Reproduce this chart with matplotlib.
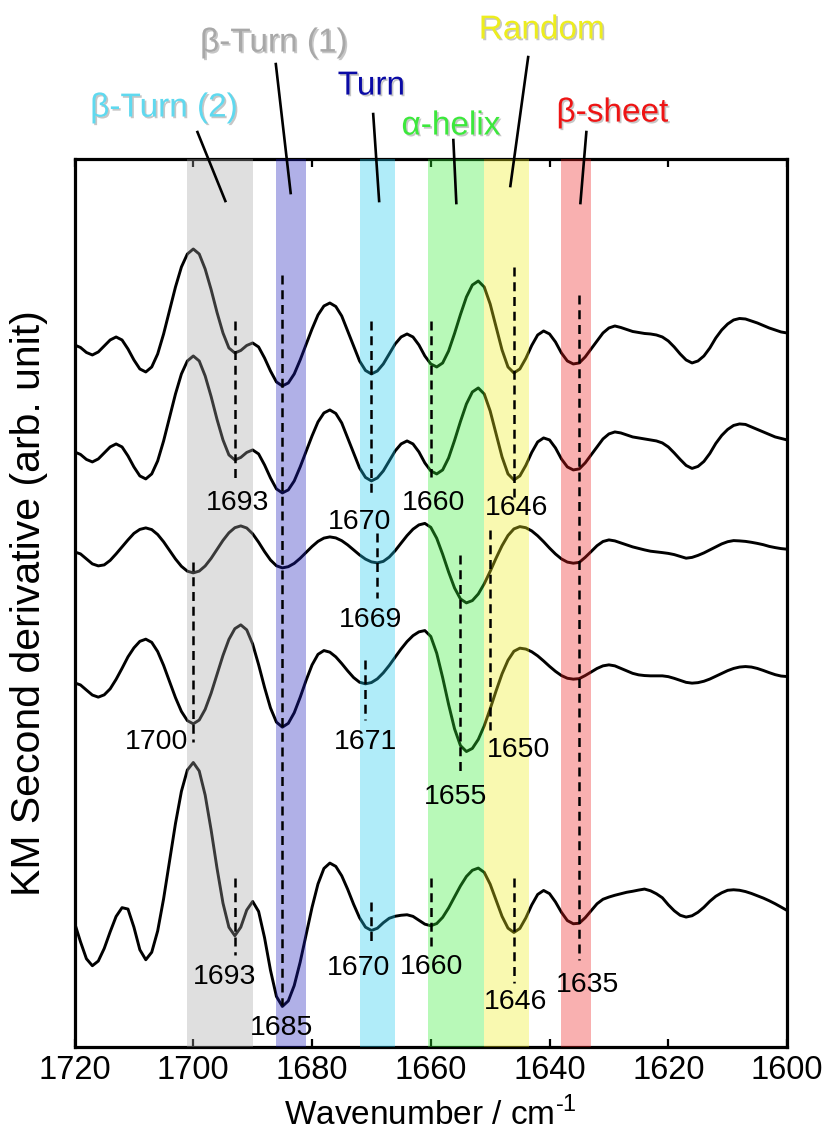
import numpy as np
import matplotlib
matplotlib.use("Agg")
import matplotlib.pyplot as plt
import matplotlib.patheffects as pe

plt.rcParams['font.family'] = ['Liberation Sans', 'DejaVu Sans']
plt.rcParams['mathtext.fontset'] = 'custom'
plt.rcParams['mathtext.rm'] = 'Liberation Sans'

# wavenumber axis, 1 cm-1 steps (1720 -> 1600)
wavenumber = np.arange(1720, 1599, -1)

# KM second-derivative traces, top to bottom (arb. unit, relative to each baseline)
spec_a = [-5, -7.5, -12.5, -15, -12, -6, 0, 3, 0, -9,
          -20, -29, -32, -27, -14, 6, 29.5, 53, 73, 86,
          91, 86, 71, 50.5, 27.5, 7, -8, -13, -10.5, -5.5,
          -3, -7, -18, -31, -42, -46, -43, -34, -20, -4.5,
          11, 25, 34, 37, 33.5, 24, 9, -6, -21, -30.5,
          -34, -31, -24, -14, -4, 3, 6, 3, -5, -16,
          -24, -27, -23, -11, 6.5, 25.5, 43, 55, 59, 53,
          36, 13, -10, -27, -33, -29, -18.5, -5.5, 5, 9,
          6, -2, -13, -21, -24, -23, -17, -9, -1, 7,
          12, 14, 12.5, 10.5, 8.5, 7.5, 6.5, 6, 5, 3,
          -1, -7, -14, -20, -23, -21, -16, -8, 2, 10,
          16, 20, 21.5, 21, 19, 17, 14.5, 12, 10, 8,
          7]
spec_b = [-5, -7.5, -12.5, -15, -12, -6, 0, 3, 0, -9,
          -20, -29, -32, -27, -14, 6, 29.5, 53, 73, 86,
          91, 86, 71, 50.5, 27.5, 7, -8, -13, -10.5, -5.5,
          -3, -7, -18, -31, -42, -46, -43, -34, -20, -4.5,
          11, 25, 34, 37, 33.5, 24, 9, -6, -21, -30.5,
          -34, -31, -24, -14, -4, 3, 6, 3, -5, -16,
          -24, -27, -23, -11, 6.5, 25.5, 43, 55, 59, 53,
          36, 13, -10, -27, -33, -29, -18.5, -5.5, 5, 9,
          7, -1, -12, -20, -23, -22, -16, -8, 0, 8,
          13, 15, 14, 12, 10, 9, 8, 7, 6, 4,
          0, -6, -12.5, -18.5, -21.5, -19.5, -14.5, -6.5, 3.5, 11.5,
          17.5, 21.5, 23, 22.5, 20, 17.5, 15, 12.5, 10, 8.5,
          7]
spec_c = [-4, -6, -11, -16, -18, -17, -12.5, -6, 1, 8,
          14.5, 18.5, 20, 18.3, 13.4, 6.1, -2.5, -11.1, -18.4, -23.3,
          -25, -23.2, -18.1, -10.5, -1.5, 7.5, 15.1, 20.2, 22, 19.9,
          14.1, 5.7, -3.7, -12.1, -17.9, -20, -18.8, -15.5, -10.4, -4.5,
          1.4, 6.5, 9.8, 11, 10, 7.2, 3, -2, -7, -11.2,
          -14, -15, -13.5, -9.2, -2.8, 4.8, 12.3, 18.7, 23, 24.5,
          20.6, 9.6, -6.4, -24.1, -40.1, -51.1, -55, -52.7, -46.1, -35.9,
          -23.5, -10.2, 2.2, 12.4, 19, 21.3, 20.2, 17, 12.1, 6.2,
          -0.2, -6.1, -11, -14.2, -15.3, -14.5, -9.5, -3.7, 2.2, 6.4,
          8, 7, 5, 3, 1, -0.5, -2, -3.3, -4, -4.7,
          -5.5, -6.7, -8.5, -10.3, -9.5, -7.5, -5, -2, 1, 4,
          6.2, 7.3, 7, 6.5, 5.6, 4.5, 3.2, 1.5, 0.3, -0.7,
          -1.3]
spec_d = [-11, -13.1, -18.2, -23.2, -25.3, -23, -17, -7.5, 3.5, 15,
          24, 30.5, 32.7, 29.5, 20.3, 6.5, -9.7, -25.8, -39.6, -48.8,
          -52, -48.2, -37.5, -21.4, -2.5, 16.4, 32.5, 43.2, 47, 42,
          27.8, 7.2, -15.5, -36.1, -50.3, -55.3, -51.5, -40.9, -25.5, -8.5,
          6.9, 17.5, 21.3, 19.7, 15, 8.3, 1, -5.7, -10.4, -12,
          -10.7, -7, -1, 6.4, 14.7, 22.9, 30.3, 36.2, 40, 41.3,
          35.4, 18.6, -5.8, -32.6, -57, -73.8, -79.7, -76.6, -67.6, -54,
          -37, -19, -2, 11.6, 20.6, 23.7, 22.8, 20.1, 16, 10.9,
          5.5, 0.5, -3.7, -6.4, -7.3, -6.8, -3.7, -0.2, 3.4, 6,
          7, 6, 3.5, 1, -1.5, -3, -3.7, -4, -4, -4,
          -4.8, -6.5, -8.5, -10.5, -11.3, -10.8, -9.4, -7.2, -4.4, -1.6,
          1.2, 3.4, 4.8, 5.3, 4.8, 3.4, 1.4, -0.8, -2.8, -4.2,
          -4.7]
spec_e = [-13, -32, -49, -56, -51.3, -38.7, -22.1, -6.7, 2.1, 0.7,
          -17.4, -40, -50, -42.5, -21.2, 11, 48.7, 86.3, 118.5, 139.8,
          147.3, 138.8, 114.7, 79.9, 41.4, 6.6, -17.5, -26, -17.4, -0.3,
          8.3, -1.7, -27.9, -60.5, -86.7, -96.7, -91.2, -75.8, -52.4, -25,
          2.4, 25.8, 41.3, 46.7, 43.4, 34, 20.5, 5.5, -8, -17.4,
          -20.7, -18.5, -13, -8.5, -6.5, -5.5, -5, -6.6, -10.5, -14.4,
          -16, -13.8, -7.6, 1.8, 12.9, 23.9, 33.3, 39.5, 41.7, 37.4,
          25.6, 9.5, -6.6, -18.4, -22.7, -18.7, -8.2, 4.8, 15.3, 19.3,
          16.1, 7.8, -2.5, -10.8, -14, -13.5, -8, -1, 6, 10.5,
          12.7, 14.5, 16, 17.5, 18.5, 19.7, 20.7, 19, 16, 12,
          5, -1, -5.5, -7.3, -6, -2.5, 2.5, 8.5, 13.5, 17,
          19.5, 20, 19.5, 18.2, 16.3, 14, 11.7, 9, 6, 2.7,
          -0.7]
spectra = [spec_a, spec_b, spec_c, spec_d, spec_e]
spec_offsets = [707, 600, 499, 375, 137]

# assignment bands (cm-1)
band_lo = [1690, 1681, 1666, 1651, 1643.5, 1633]
band_hi = [1701, 1686, 1672, 1660.5, 1651, 1638]
band_colors = ['#a6a6a6', '#1d1dbd', '#1dc9f0', '#34f034', '#f0f01d', '#f01d1d']

# band captions above the frame
cap_names = ['β-Turn (2)', 'β-Turn (1)', 'Turn', 'α-helix', 'Random', 'β-sheet']
cap_colors = ['#5fd9ef', '#a8a8a8', '#0a0aa5', '#3ce83c', '#eded1e', '#ee1414']
cap_x = [1704.9, 1686.4, 1670.0, 1656.6, 1641.3, 1629.4]
cap_y = [939, 1004, 961, 921, 1017, 934]
lead_x0 = [1699.3, 1686.1, 1669.7, 1656.2, 1643.6, 1633.8]
lead_y0 = [915, 983, 933, 907, 990, 915]
lead_x1 = [1694.6, 1683.6, 1668.7, 1655.7, 1646.6, 1634.8]
lead_y1 = [846, 854, 846, 844, 861, 844]

# peak markers: position (cm-1), dashed line extent, label position
mark_wn = [1693, 1685, 1670, 1669, 1660, 1646, 1635, 1700, 1671, 1655, 1650,
           1693, 1670, 1660, 1646]
mark_top = [726, 772, 726, 514, 726, 780, 752, 485, 387, 492, 517,
            169, 145, 169, 169]
mark_bot = [567, 42, 550, 449, 570, 550, 87, 305, 327, 274, 317,
            92, 102, 100, 64]
label_x = [1692.5, 1685.1, 1672.0, 1670.1, 1659.6, 1645.5, 1633.6, 1706.2,
           1671.0, 1655.9, 1645.3, 1694.7, 1672.2, 1659.8, 1645.7]
label_y = [544, 19, 525, 427, 544, 539, 62, 305, 305, 250, 297,
           70, 79, 80, 45]

fig = plt.figure(figsize=(8.31, 11.36), dpi=100)
ax = fig.add_axes([0.0897, 0.0786, 0.8574, 0.7814])
ax.set_xlim(1720, 1600)
ax.set_ylim(0, 888)

for vals, off in zip(spectra, spec_offsets):
    ax.plot(wavenumber, np.array(vals) + off, color='black', lw=2.1,
            solid_joinstyle='round', zorder=2)

for lo, hi, c in zip(band_lo, band_hi, band_colors):
    ax.axvspan(lo, hi, color=c, alpha=0.35, lw=0, zorder=3)

for wn, top, bot in zip(mark_wn, mark_top, mark_bot):
    ax.plot([wn, wn], [top, bot], color='black', lw=1.8,
            ls=(0, (3.6, 2.3)), zorder=4)
for wn, x, y in zip(mark_wn, label_x, label_y):
    ax.text(x, y, str(wn), fontsize=20.5, ha='center', va='center', zorder=5)

shadow = [pe.withSimplePatchShadow(offset=(1.2, -1.2), shadow_rgbFace='#444444', alpha=0.3)]
for name, c, x, y in zip(cap_names, cap_colors, cap_x, cap_y):
    ax.text(x, y, name, color=c, fontsize=24, ha='center', va='center',
            clip_on=False, path_effects=shadow)
for x0, y0, x1, y1 in zip(lead_x0, lead_y0, lead_x1, lead_y1):
    ax.plot([x0, x1], [y0, y1], color='black', lw=1.9, clip_on=False, zorder=5)

ax.set_xticks(np.arange(1720, 1599, -20))
ax.set_yticks([])
ax.tick_params(axis='x', direction='in', top=True, length=6, width=1.6,
               labelsize=23.5, pad=6)
for sp in ax.spines.values():
    sp.set_linewidth(2.3)

ax.set_xlabel('Wavenumber / cm$^{\\text{-}1}$', fontsize=24, labelpad=8)
ax.set_ylabel('KM Second derivative (arb. unit)', fontsize=29.5, labelpad=19)

fig.savefig('out.png', dpi=100)
